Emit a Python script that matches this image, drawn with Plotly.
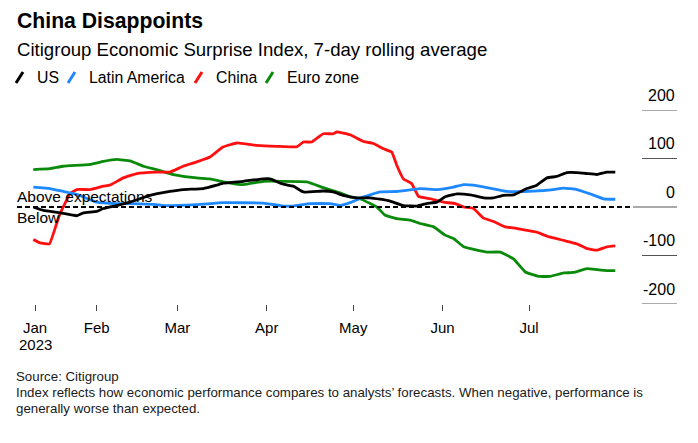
import plotly.graph_objects as go
import pandas as pd

# ---------------- data ----------------
# x values: days since 2023-01-01
us_days = [9.0, 12.5, 18.3, 24.1, 26.4, 31.0, 33.3, 37.9, 42.6, 49.5, 56.4, 61.0, 68.0, 72.6, 74.9,
           81.9, 88.8, 91.1, 95.7, 99.2, 102.7, 109.6, 113.1, 116.5, 121.2, 125.9, 129.3, 132.8,
           137.4, 142.1, 145.5, 149.0, 151.9, 156.0, 160.6, 165.2, 168.7, 172.1, 175.6, 180.2,
           183.7, 187.2, 190.6, 194.1, 197.6, 201.1, 204.5, 208.0, 210.9]
us_vals = [0, -7, -12, -18, -12, -9, -3, 3, 10, 24, 32, 36, 38, 45, 49,
           53, 58, 58, 47, 43, 31, 33, 31, 24, 19, 19, 16, 12,
           3, 2, 7, 10, 21, 27, 25, 19, 19, 24, 25, 38,
           45, 60, 63, 71, 71, 69, 67, 72, 72]

latam_days = [9.0, 14.8, 19.4, 24.1, 31.0, 37.9, 42.6, 51.8, 54.1, 65.7, 74.9, 88.8, 95.7, 99.2,
              105.0, 112.0, 115.5, 118.9, 120.1, 123.6, 129.3, 135.1, 143.2, 149.0, 154.8, 158.3,
              161.7, 166.4, 173.3, 179.1, 186.0, 189.5, 193.0, 197.6, 202.2, 206.8, 210.9]
latam_vals = [41, 38, 32, 26, 10, 7, 7, 5, 3, 5, 9, 8, 2, 2,
              7, 7, 3, 9, 12, 21, 31, 32, 38, 36, 41, 46,
              45, 40, 32, 32, 34, 36, 39, 36, 27, 17, 16]

china_days = [9.0, 11.3, 14.6, 17.1, 18.3, 21.7, 24.1, 28.7, 33.3, 35.6, 40.2, 44.9, 51.8, 56.4,
              61.0, 65.7, 70.3, 74.9, 79.6, 86.5, 93.5, 100.4, 102.7, 105.6, 109.6, 113.1, 114.3,
              118.9, 123.6, 127.0, 130.5, 133.4, 135.1, 137.4, 140.3, 142.6, 146.7, 151.3, 155.4,
              158.3, 161.7, 165.2, 168.7, 172.7, 175.6, 180.2, 183.7, 187.2, 193.0, 197.6, 201.1,
              204.5, 208.0, 210.9]
china_vals = [-67, -74, -76, -34, -14, 27, 36, 36, 43, 45, 60, 69, 72, 72,
              84, 93, 103, 124, 132, 127, 125, 124, 134, 134, 151, 151, 155,
              149, 135, 131, 120, 113, 86, 58, 48, 22, 17, 10, 7,
              0, -3, -23, -30, -41, -43, -48, -52, -60, -69, -76, -86,
              -89, -82, -80]

euro_days = [9.0, 14.8, 19.4, 28.7, 33.3, 37.9, 42.6, 47.2, 51.8, 57.6, 65.7, 70.3, 74.9, 81.9,
             88.8, 95.7, 103.9, 109.6, 115.4, 118.9, 122.4, 125.9, 128.2, 131.1, 135.1, 139.8,
             143.2, 147.9, 151.9, 154.8, 158.3, 162.9, 166.4, 171.0, 175.6, 179.7, 184.3, 188.3,
             193.0, 196.4, 201.1, 204.5, 208.0, 210.9]
euro_vals = [77, 79, 84, 88, 94, 98, 95, 84, 77, 67, 60, 58, 52, 46,
             53, 53, 52, 40, 29, 21, 17, 7, 0, -17, -24, -27,
             -34, -41, -58, -65, -82, -89, -93, -93, -107, -134, -143, -143,
             -136, -135, -127, -129, -131, -131]

series_names = ["US", "Latin America", "China", "Euro zone"]
series_colors = ["#000000", "#1E88FF", "#FF1010", "#0A8A0A"]

month_tick_days = [9.6, 31, 59, 90, 120, 151, 181]
month_tick_text = ["Jan", "Feb", "Mar", "Apr", "May", "Jun", "Jul"]
year_label = "2023"
y_ticks = [200, 100, 0, -100, -200]

# ---------------- helpers ----------------
BASE = pd.Timestamp("2023-01-01")


def to_dates(days):
    return [BASE + pd.to_timedelta(d, unit="D") for d in days]


OFF = 8                     # default page body margin
W, H = 698 - OFF, 443 - OFF
L, R, T, B = 17, 632, 110, 304  # plot area in page pixels


def px(x):
    return (x - L) / (R - L)


def py(y):
    return (B - y) / (B - T)


FONT = "Liberation Sans, Arial, sans-serif"

fig = go.Figure()
for name, days, vals, col in zip(
        series_names,
        [us_days, latam_days, china_days, euro_days],
        [us_vals, latam_vals, china_vals, euro_vals],
        series_colors):
    fig.add_trace(go.Scatter(x=to_dates(days), y=vals, mode="lines", name=name,
                             line=dict(color=col, width=2.8, shape="spline", smoothing=0.3),
                             showlegend=False, hoverinfo="skip"))

# draw order: black on top
fig.data = (fig.data[3], fig.data[2], fig.data[1], fig.data[0])

shapes = []
annotations = []

# zero reference line: dashed across the data, solid short segment at right
shapes.append(dict(type="line", xref="paper", yref="y", x0=0, x1=1, y0=0, y1=0,
                   line=dict(color="#000000", width=2, dash="5px,3px")))
shapes.append(dict(type="line", xref="paper", yref="y", x0=px(633), x1=px(677), y0=0, y1=0,
                   line=dict(color="#555555", width=1)))
for v in y_ticks:
    if v != 0:
        shapes.append(dict(type="line", xref="paper", yref="y", x0=px(642), x1=px(677), y0=v, y1=v,
                           line=dict(color="#555555", width=1)))
    annotations.append(dict(xref="paper", yref="y", x=px(677), y=v, yshift=15, text=str(v),
                            showarrow=False, xanchor="right", yanchor="middle",
                            font=dict(family=FONT, size=16, color="#000000")))

# year under the first month tick
annotations.append(dict(xref="x", yref="paper", x=to_dates([month_tick_days[0]])[0], y=py(344),
                        text=year_label, showarrow=False, xanchor="center", yanchor="middle",
                        font=dict(family=FONT, size=15, color="#000000")))

# title, subtitle
annotations.append(dict(xref="paper", yref="paper", x=px(15), y=py(21), text="<b>China Disappoints</b>",
                        showarrow=False, xanchor="left", yanchor="middle",
                        font=dict(family=FONT, size=21.2, color="#000000")))
annotations.append(dict(xref="paper", yref="paper", x=px(15), y=py(49),
                        text="Citigroup Economic Surprise Index, 7-day rolling average",
                        showarrow=False, xanchor="left", yanchor="middle",
                        font=dict(family=FONT, size=18.6, color="#000000")))

# custom legend with slash markers
legend_slash_x = [16, 68, 195, 266]
legend_text_x = [35, 87, 214, 285]
for name, col, sx, tx in zip(series_names, series_colors, legend_slash_x, legend_text_x):
    shapes.append(dict(type="line", xref="paper", yref="paper",
                       x0=px(sx), y0=py(83), x1=px(sx + 7), y1=py(72),
                       line=dict(color=col, width=3)))
    annotations.append(dict(xref="paper", yref="paper", x=px(tx), y=py(78), text=name,
                            showarrow=False, xanchor="left", yanchor="middle",
                            font=dict(family=FONT, size=15.8, color="#000000")))

# above / below labels
annotations.append(dict(xref="paper", yref="paper", x=px(15), y=py(196), text="Above expectations",
                        showarrow=False, xanchor="left", yanchor="middle",
                        font=dict(family=FONT, size=15.5, color="#000000")))
annotations.append(dict(xref="paper", yref="paper", x=px(15), y=py(217), text="Below",
                        showarrow=False, xanchor="left", yanchor="middle",
                        font=dict(family=FONT, size=15.5, color="#000000")))

# footer
footer_lines = ["Source: Citigroup",
                "Index reflects how economic performance compares to analysts\u2019 forecasts. When negative, performance is",
                "generally worse than expected."]
for line, yy in zip(footer_lines, [376, 392, 408]):
    annotations.append(dict(xref="paper", yref="paper", x=px(14), y=py(yy), text=line,
                            showarrow=False, xanchor="left", yanchor="middle",
                            font=dict(family=FONT, size=13.3, color="#1a1a1a")))

fig.update_layout(
    width=W, height=H,
    margin=dict(l=L - OFF, r=(W + OFF) - R, t=T - OFF, b=(H + OFF) - B, pad=0),
    paper_bgcolor="#ffffff", plot_bgcolor="#ffffff",
    showlegend=False,
    shapes=shapes, annotations=annotations,
    xaxis=dict(type="date",
               range=[BASE + pd.to_timedelta(3.35, unit="D"), BASE + pd.to_timedelta(216.7, unit="D")],
               tickvals=to_dates(month_tick_days), ticktext=month_tick_text,
               ticks="outside", ticklen=6, tickwidth=1, tickcolor="#444444",
               ticklabelstandoff=4,
               showgrid=False, zeroline=False, showline=False,
               tickfont=dict(family=FONT, size=15, color="#000000")),
    yaxis=dict(range=[-200, 200], visible=False, fixedrange=True),
)

fig.write_html("out.html")
